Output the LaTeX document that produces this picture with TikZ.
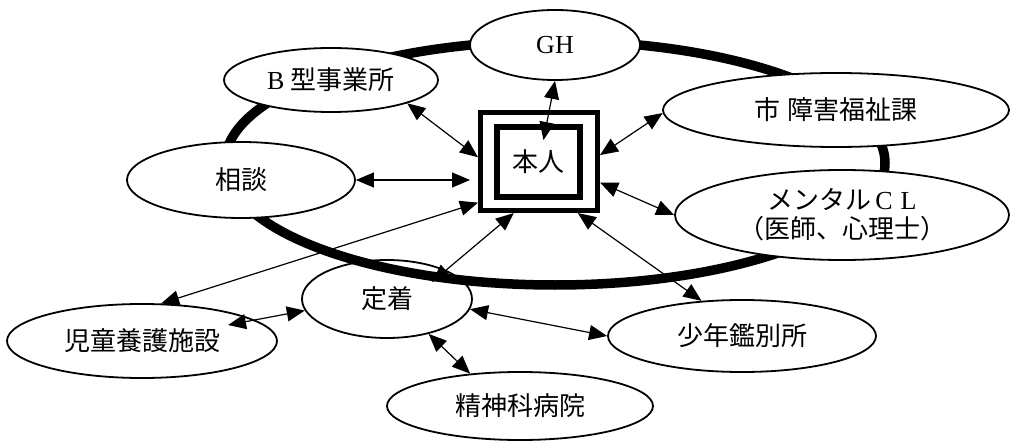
\documentclass[tikz,border=0pt]{standalone}
\usepackage{fontspec}
\setmainfont{Liberation Serif}
\newfontfamily\cjk{Noto Sans CJK JP}
\usetikzlibrary{shapes.geometric,arrows.meta,calc}
\tikzset{
  oval/.style={ellipse, draw, line width=1.8pt, fill=white, inner sep=0pt,
    font=\fontsize{26}{29}\selectfont, align=center},
  link/.style={line width=1.2pt, {Triangle[length=18pt,width=15pt]}-{Triangle[length=18pt,width=15pt]}},
  ring/.style={line width=9.5pt},
}
\begin{document}
\begin{tikzpicture}[x=1pt,y=-1pt]
\useasboundingbox (0,0) rectangle (1010,441);
% node under the ring
\node[oval, minimum width=170pt, minimum height=78pt] (teichaku) at (387,299) {\cjk 定着};
% thick ring
\draw[ring] (555,163) ellipse [x radius=330pt, y radius=122pt];
% other nodes
\node[oval, minimum width=170pt, minimum height=70pt] (gh) at (555,45) {GH};
\node[oval, minimum width=214pt, minimum height=64pt] (btype) at (331,80) {B {\cjk 型事業所}};
\node[oval, minimum width=346pt, minimum height=74pt] (shi) at (836,110) {\cjk 市\hspace{8pt}障害福祉課};
\node[oval, minimum width=334pt, minimum height=90pt] (mental) at (842,215) {{\cjk メンタル}\hspace{4pt}C\hspace{8pt}L\\{\cjk （医師、心理士）}};
\node[oval, minimum width=228pt, minimum height=76pt] (sodan) at (241,180) {\cjk 相談};
\node[oval, minimum width=270pt, minimum height=74pt] (jido) at (142,341) {\cjk 児童養護施設};
\node[oval, minimum width=266pt, minimum height=68pt] (seishin) at (520,406) {\cjk 精神科病院};
\node[oval, minimum width=268pt, minimum height=72pt] (shonen) at (742,336) {\cjk 少年鑑別所};
% central box
\node[draw, line width=5pt, fill=white, minimum width=117pt, minimum height=98pt, inner sep=0pt] (honinout) at (539,161.5) {};
\node[draw, line width=6pt, minimum width=83pt, minimum height=70pt, inner sep=0pt,
  font=\fontsize{26}{29}\selectfont] (honin) at (538.5,162) {\cjk 本人};
% connectors
\draw[link, shorten >=8pt] (sodan.east) -- (sodan.east -| honinout.west);
\draw[link] (btype.-17) -- (honinout.176);
\draw[link] (gh.south) -- ($(honin.north)+(5,16)$);
\draw[link] (shi.181) -- (honinout.6);
\draw[link] (honinout.-19) -- (mental.west);
\draw[link] (honinout.-53) -- (shonen.139);
\draw[link] (jido.63) -- (honinout.214);
\draw[link] (honinout.244) -- ($(teichaku.center)+(45,-17)$);
\draw[link] ($(jido.center)+(86,-16)$) -- (teichaku.188);
\draw[link] (teichaku.-7) -- (shonen.west);
\draw[link] (teichaku.-40) -- (seishin.147);
\end{tikzpicture}
\end{document}
